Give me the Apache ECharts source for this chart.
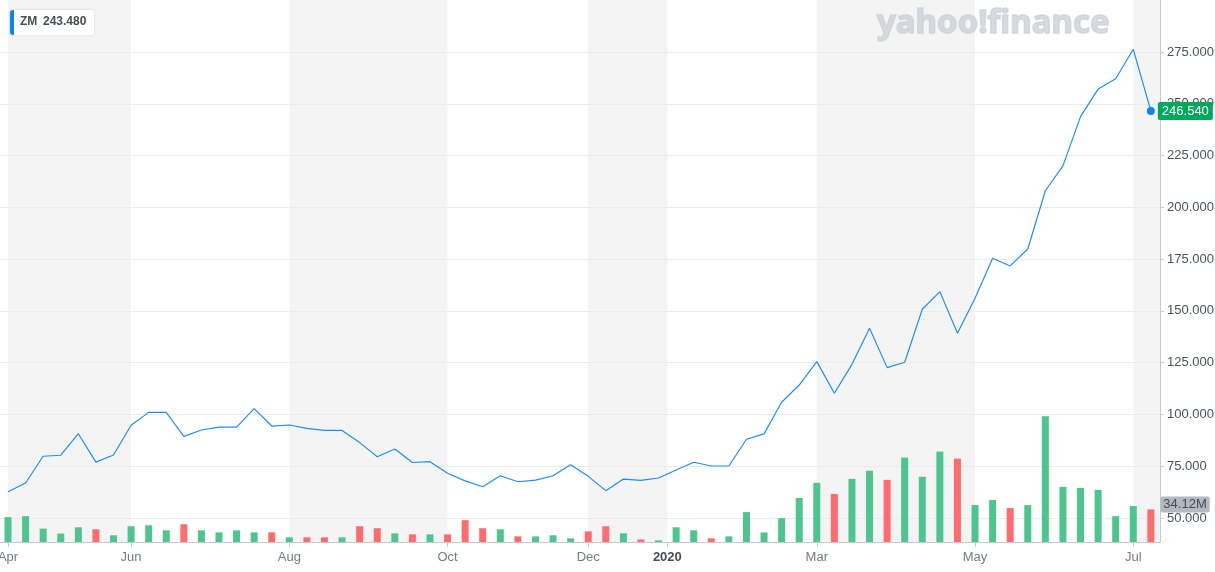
<!DOCTYPE html>
<html>
<head>
<meta charset="utf-8">
<script src="https://cdn.jsdelivr.net/npm/echarts@6.0.0/dist/echarts.min.js"></script>
<style>
  html, body { margin: 0; padding: 0; background: #ffffff; }
  #chart { width: 1215px; height: 572px; }
</style>
</head>
<body>
<div id="chart"></div>
<script>
// ---- Data (weekly, ZM) ----
const weeks = [
  '2019-04-15','2019-04-22','2019-04-29','2019-05-06','2019-05-13','2019-05-20','2019-05-27',
  '2019-06-03','2019-06-10','2019-06-17','2019-06-24','2019-07-01','2019-07-08','2019-07-15',
  '2019-07-22','2019-07-29','2019-08-05','2019-08-12','2019-08-19','2019-08-26','2019-09-02',
  '2019-09-09','2019-09-16','2019-09-23','2019-09-30','2019-10-07','2019-10-14','2019-10-21',
  '2019-10-28','2019-11-04','2019-11-11','2019-11-18','2019-11-25','2019-12-02','2019-12-09',
  '2019-12-16','2019-12-23','2019-12-30','2020-01-06','2020-01-13','2020-01-20','2020-01-27',
  '2020-02-03','2020-02-10','2020-02-17','2020-02-24','2020-03-02','2020-03-09','2020-03-16',
  '2020-03-23','2020-03-30','2020-04-06','2020-04-13','2020-04-20','2020-04-27','2020-05-04',
  '2020-05-11','2020-05-18','2020-05-25','2020-06-01','2020-06-08','2020-06-15','2020-06-22',
  '2020-06-29','2020-07-06','2020-07-13'
];
const closePrice = [
  62.7, 66.9, 79.8, 80.3, 90.7, 77.0, 80.4, 94.8, 101.0, 101.0,
  89.4, 92.5, 93.9, 93.9, 102.8, 94.4, 94.9, 93.3, 92.3, 92.3,
  86.4, 79.6, 83.3, 76.8, 77.2, 71.6, 67.9, 65.1, 70.4, 67.5,
  68.3, 70.4, 75.7, 70.1, 63.2, 68.8, 68.2, 69.3, 73.2, 76.9,
  75.1, 75.1, 88.0, 90.6, 105.9, 114.2, 125.5, 110.2, 124.2, 141.6,
  122.6, 125.2, 150.8, 159.3, 139.2, 156.1, 175.4, 171.7, 179.9, 208.0,
  220.0, 243.8, 257.1, 262.1, 276.3, 246.54
];
// volume in millions
const volume = [
  26.0, 27.0, 14.0, 8.8, 15.4, 13.3, 7.0, 16.5, 17.5, 12.2,
  18.6, 12.2, 10.1, 12.2, 10.1, 10.1, 4.9, 4.9, 4.9, 4.9,
  16.5, 14.4, 9.1, 8.0, 8.0, 8.0, 22.8, 14.4, 13.3, 5.9,
  5.9, 7.0, 3.8, 11.2, 16.5, 9.1, 2.7, 1.7, 15.4, 12.2,
  3.8, 5.9, 31.3, 10.1, 24.9, 46.0, 61.9, 50.3, 66.1, 74.6,
  65.0, 88.3, 68.2, 94.6, 87.2, 38.6, 43.9, 35.5, 38.6, 131.6,
  57.7, 56.6, 54.5, 27.0, 37.6, 34.12
];
// 1 = up week (green), 0 = down week (red)
const volUp = [
  1,1,1,1,1,0,1,1,1,1,
  0,1,1,1,1,0,1,0,0,1,
  0,0,1,0,1,0,0,0,1,0,
  1,1,1,0,0,1,0,1,1,1,
  0,1,1,1,1,1,1,0,1,1,
  0,1,1,1,0,1,1,0,1,1,
  1,1,1,1,1,0
];
const tickIndex  = [0, 7, 16, 25, 33, 37.5, 46, 55, 64];
const tickLabels = ['Apr', 'Jun', 'Aug', 'Oct', 'Dec', '2020', 'Mar', 'May', 'Jul'];
const priceTicks = [50, 75, 100, 125, 150, 175, 200, 225, 250, 275];
const shadedBands = [[0, 7], [16, 25], [33, 37.5], [46, 55], [64, 65.52]];
const lastPriceLabel = '246.540';
const lastVolumeLabel = '34.12M';
const headerSymbol = 'ZM';
const headerPrice = '243.480';

// ---- Chart ----
const X_MIN = -0.455, X_MAX = 65.52;
const GREEN = '#4cc68e', RED = '#ff6b6e';
const FONT = 'Liberation Sans';

const priceData = closePrice.map((v, i) => {
  if (i === closePrice.length - 1) {
    return { value: [i, v], symbol: 'circle', symbolSize: 8,
             itemStyle: { color: '#0a84f0', borderWidth: 0 } };
  }
  return [i, v];
});
const volData = volume.map((v, i) => {
  const item = { value: [i, v], itemStyle: { color: volUp[i] ? GREEN : RED } };
  if (i === volume.length - 1) {
    item.label = {
      show: true, position: [13, -13], formatter: lastVolumeLabel,
      backgroundColor: '#b4b9c1', color: '#444b52', fontSize: 13, fontFamily: FONT,
      padding: [2, 3, 1, 3], borderRadius: 2
    };
  }
  return item;
});

const chart = echarts.init(document.getElementById('chart'), null, { renderer: 'canvas' });
chart.setOption({
  animation: false,
  backgroundColor: '#ffffff',
  grid: { left: 0, right: 55, top: 0, bottom: 30, containLabel: false, outerBoundsMode: 'none' },
  xAxis: {
    type: 'value', min: X_MIN, max: X_MAX, z: 2,
    axisLine: { show: true, onZero: false, lineStyle: { color: '#c9c9c9', width: 1 } },
    axisTick: { show: true, customValues: tickIndex, length: 5, lineStyle: { color: '#c9c9c9' } },
    splitLine: { show: false },
    axisLabel: {
      customValues: tickIndex, margin: 9, color: '#737b84', fontSize: 13, fontFamily: FONT,
      formatter: (v) => {
        const k = tickIndex.indexOf(v);
        const t = k >= 0 ? tickLabels[k] : '';
        return t === '2020' ? '{b|' + t + '}' : t;
      },
      rich: { b: { fontWeight: 'bold', color: '#464e56', fontSize: 13, fontFamily: FONT } }
    }
  },
  yAxis: [{
    type: 'value', position: 'right', min: 38.41, max: 300.1, z: 2,
    axisLine: { show: true, onZero: false, lineStyle: { color: '#c9c9c9', width: 1 } },
    axisTick: { show: true, customValues: priceTicks, length: 4, lineStyle: { color: '#c9c9c9' } },
    splitLine: { show: true, lineStyle: { color: '#ebebeb', width: 1 } },
    axisLabel: {
      customValues: priceTicks, margin: 7, color: '#4a525a', fontSize: 13, fontFamily: FONT,
      formatter: (v) => v.toFixed(3)
    }
  }, {
    type: 'value', min: 0, max: 567, show: false, position: 'right',
    axisLine: { show: false, onZero: false }, splitLine: { show: false },
    axisLabel: { show: false }, axisTick: { show: false }
  }],
  graphic: [
    {
      type: 'text', z: 10, x: 877, y: 7, silent: true,
      style: { text: 'yahoo!finance', fill: 'rgba(205,209,215,0.8)',
               stroke: 'rgba(205,209,215,0.8)', lineWidth: 1.6,
               fontSize: 33, fontWeight: 'bold', fontFamily: 'Noto Sans' }
    },
    { type: 'rect', z: 20, x: 10, y: 10, silent: true,
      shape: { x: 0, y: 0, width: 84, height: 25, r: 3 },
      style: { fill: '#ffffff', shadowBlur: 3, shadowColor: 'rgba(0,0,0,0.12)' } },
    { type: 'rect', z: 21, x: 10, y: 10, silent: true,
      shape: { x: 0, y: 0, width: 4, height: 25, r: [3, 0, 0, 3] },
      style: { fill: '#0a84f0' } },
    { type: 'text', z: 22, x: 20, y: 16, silent: true,
      style: { text: headerSymbol, fill: '#464e56', fontSize: 12, fontWeight: 'bold', fontFamily: FONT } },
    { type: 'text', z: 22, x: 43, y: 16, silent: true,
      style: { text: headerPrice, fill: '#464e56', fontSize: 12, fontWeight: 'bold', fontFamily: FONT } }
  ],
  series: [
    {
      type: 'line', name: 'bands', data: [], silent: true, z: 1,
      markArea: {
        silent: true, z: 1,
        itemStyle: { color: '#f4f4f4' },
        data: shadedBands.map(b => [{ xAxis: b[0] }, { xAxis: b[1] }])
      }
    },
    {
      type: 'bar', name: 'Volume', yAxisIndex: 1, data: volData, barWidth: 7, z: 3,
      silent: true
    },
    {
      type: 'line', name: 'ZM', data: priceData, z: 4,
      symbol: 'none', showSymbol: true, silent: true,
      lineStyle: { color: '#1e8ff2', width: 1.2 },
      endLabel: {
        show: true, formatter: lastPriceLabel, distance: 7,
        backgroundColor: '#00a85c', color: '#ffffff', fontSize: 13, fontFamily: FONT,
        padding: [3, 4, 2, 4], borderRadius: 2
      }
    }
  ]
});
</script>
</body>
</html>
